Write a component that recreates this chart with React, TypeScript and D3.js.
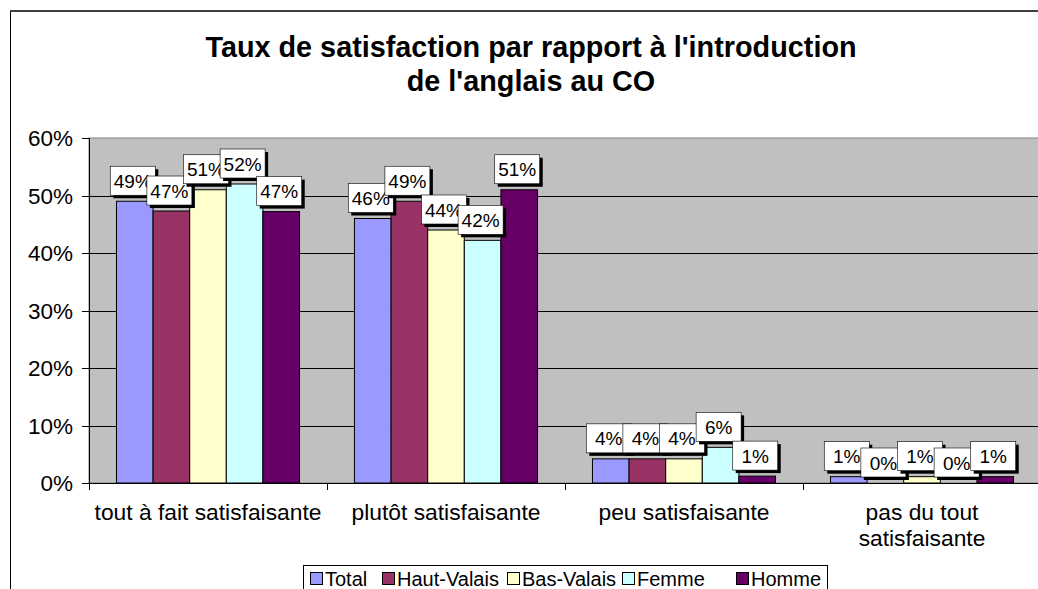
import React from "react";
import * as d3 from "d3";

const categories = ["tout à fait satisfaisante", "plutôt satisfaisante", "peu satisfaisante", "pas du tout satisfaisante"];
const categoryLines = [["tout à fait satisfaisante"], ["plutôt satisfaisante"], ["peu satisfaisante"], ["pas du tout", "satisfaisante"]];
const seriesNames = ["Total", "Haut-Valais", "Bas-Valais", "Femme", "Homme"];
const seriesColors = ["#9999FF", "#993366", "#FFFFCC", "#CCFFFF", "#660066"];
// values in percent, by series, per category
const total = [49, 46, 4.2, 1.1];
const hautValais = [47.3, 49, 4.2, 0];
const basValais = [51, 44, 4.2, 1.1];
const femme = [52, 42.2, 6.2, 0];
const homme = [47.2, 51, 1.2, 1.1];
const labelTexts = [
  ["49%", "46%", "4%", "1%"],
  ["47%", "49%", "4%", "0%"],
  ["51%", "44%", "4%", "1%"],
  ["52%", "42%", "6%", "0%"],
  ["47%", "51%", "1%", "1%"],
];
const yTicks = [0, 10, 20, 30, 40, 50, 60];

const seriesValues = [total, hautValais, basValais, femme, homme];

export default function App() {
  const W = 1038, H = 589;
  const left = 89, top = 138, bottom = 483;
  const groupW = 238;
  const x0 = d3.scaleBand<string>().domain(categories).range([left, left + groupW * categories.length]).paddingInner(0).paddingOuter(0);
  const x1 = d3.scaleBand<string>().domain(seriesNames).range([0, groupW]).paddingInner(0).paddingOuter(0.75);
  const y = d3.scaleLinear().domain([0, 60]).range([bottom, top]);
  const font = "Arial, 'Liberation Sans', sans-serif";
  const boxW = 45, boxH = 29;

  const legendX = [310, 382, 507, 622, 736];

  return (
    <svg width={W} height={H} style={{ position: "absolute", left: 0, top: 0, background: "#fff" }} fontFamily={font}>
      <rect x={10.5} y={11.5} width={W + 20} height={H + 20} fill="#fff" stroke="#000" strokeWidth={1} />
      <line x1={10} x2={W} y1={11} y2={11} stroke="#404040" strokeWidth={2} />
      {/* title */}
      <text x={531} y={57} textAnchor="middle" fontWeight="bold" fontSize={28.8} fill="#000">Taux de satisfaction par rapport à l'introduction</text>
      <text x={531} y={91} textAnchor="middle" fontWeight="bold" fontSize={28.8} fill="#000">de l'anglais au CO</text>
      {/* plot area */}
      <rect x={left} y={top} width={W - left + 10} height={bottom - top} fill="#C0C0C0" stroke="#808080" strokeWidth={1} />
      {yTicks.map((t) => (
        <g key={t}>
          {t > 0 && t < 60 && <line x1={left} x2={W} y1={Math.round(y(t)) + 0.5} y2={Math.round(y(t)) + 0.5} stroke="#000" strokeWidth={1} />}
          <line x1={left - 7} x2={left} y1={Math.round(y(t)) + 0.5} y2={Math.round(y(t)) + 0.5} stroke="#000" strokeWidth={1} />
          <text x={73} y={y(t) + 8} textAnchor="end" fontSize={22.5} fill="#000">{t}%</text>
        </g>
      ))}
      {/* bars */}
      {seriesValues.map((vals, si) =>
        categories.map((c, ci) => {
          const bx = (x0(c) as number) + (x1(seriesNames[si]) as number);
          const by = y(vals[ci]);
          return (
            <rect key={`${si}-${ci}`} x={bx} y={by} width={x1.bandwidth()} height={bottom - by} fill={seriesColors[si]} stroke="#000" strokeWidth={1} />
          );
        })
      )}
      {/* axes */}
      <line x1={left + 0.5} x2={left + 0.5} y1={top} y2={bottom} stroke="#000" />
      <line x1={left} x2={W} y1={bottom + 0.5} y2={bottom + 0.5} stroke="#000" />
      {categories.map((c) => (
        <line key={c} x1={Math.round(x0(c) as number) + 0.5} x2={Math.round(x0(c) as number) + 0.5} y1={bottom} y2={bottom + 7} stroke="#000" />
      ))}
      {/* labels */}
      {seriesValues.map((vals, si) =>
        categories.map((c, ci) => {
          const cx = (x0(c) as number) + (x1(seriesNames[si]) as number) + x1.bandwidth() / 2 - 2;
          const by = y(vals[ci]);
          const bx = cx - boxW / 2;
          const byTop = by - 6 - boxH;
          return (
            <g key={`l-${si}-${ci}`}>
              <rect x={bx + 3} y={byTop + 3} width={boxW} height={boxH} fill="#000" />
              <rect x={bx} y={byTop} width={boxW} height={boxH} fill="#fff" stroke="#000" strokeWidth={0.6} />
              <text x={cx} y={byTop + boxH / 2 + 7} textAnchor="middle" fontSize={19} fill="#000">{labelTexts[si][ci]}</text>
            </g>
          );
        })
      )}
      {/* category labels */}
      {categories.map((c, ci) => (
        <text key={c} textAnchor="middle" fontSize={22.8} fill="#000">
          {categoryLines[ci].map((ln, li) => (
            <tspan key={li} x={(x0(c) as number) + groupW / 2} y={520 + li * 26}>{ln}</tspan>
          ))}
        </text>
      ))}
      {/* legend */}
      <rect x={303.5} y={565.5} width={524} height={40} fill="#fff" stroke="#000" strokeWidth={1} />
      {seriesNames.map((s, i) => (
        <g key={s}>
          <rect x={legendX[i] + 0.5} y={572.5} width={12} height={12} fill={seriesColors[i]} stroke="#000" strokeWidth={1} />
          <text x={legendX[i] + 15} y={586} fontSize={20} fill="#000">{s}</text>
        </g>
      ))}
    </svg>
  );
}
